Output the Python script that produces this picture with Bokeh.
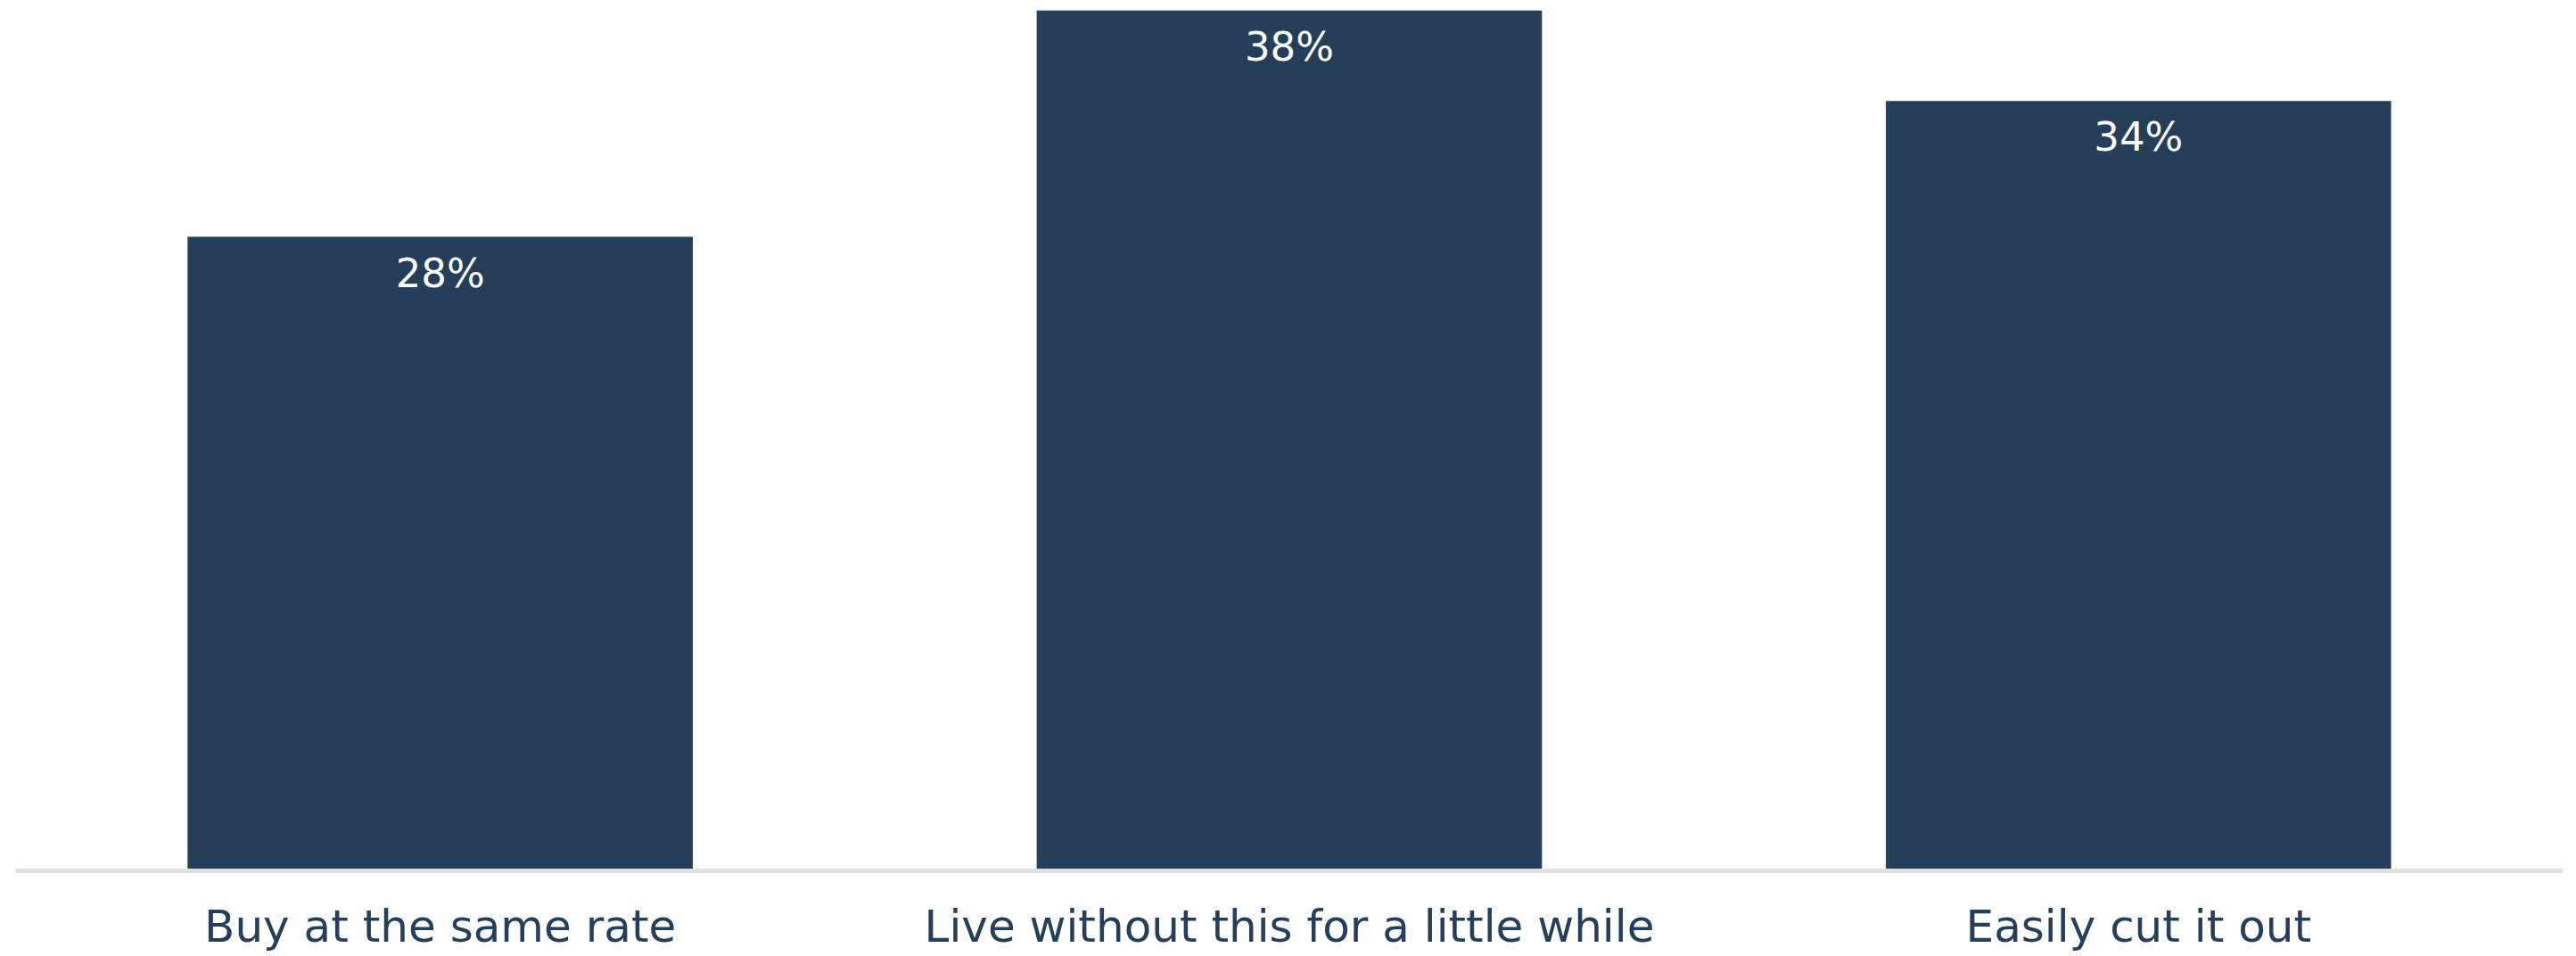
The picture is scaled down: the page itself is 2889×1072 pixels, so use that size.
from bokeh.plotting import figure
from bokeh.models import FactorRange, Range1d, ColumnDataSource
from bokeh.core.properties import value
from bokeh.embed import file_html
from bokeh.resources import INLINE

categories = ["Buy at the same rate", "Live without this for a little while", "Easily cut it out"]
values = [28, 38, 34]
value_labels = ["28%", "38%", "34%"]

BAR = "#253e5a"
FONT = "DejaVu Sans"

src = ColumnDataSource(dict(cat=categories, val=values, lab=value_labels))

p = figure(
    x_range=FactorRange(*categories, range_padding=0),
    y_range=Range1d(0, 38.44),
    frame_width=2857, frame_height=976,
    min_border_left=17, min_border_right=15, min_border_top=0, min_border_bottom=0,
    output_backend="svg", toolbar_location=None,
    background_fill_color="white", border_fill_color="white",
    outline_line_color=None,
)

p.vbar(x="cat", top="val", width=0.595, bottom=0, source=src,
       fill_color=BAR, line_color=None)

p.text(x="cat", y="val", text="lab", source=src,
       text_color="white", text_font=value(FONT), text_font_size="45px",
       text_align="center", text_baseline="top", y_offset=14)

p.yaxis.visible = False
p.xgrid.visible = False
p.ygrid.visible = False
p.xaxis.axis_line_color = "#dde1e4"
p.xaxis.axis_line_width = 5
p.xaxis.major_tick_line_color = None
p.xaxis.minor_tick_line_color = None
p.xaxis.major_label_text_font = FONT
p.xaxis.major_label_text_font_size = "50px"
p.xaxis.major_label_text_color = BAR
p.xaxis.major_label_standoff = 27

open("out.html", "w").write(file_html(p, INLINE))
